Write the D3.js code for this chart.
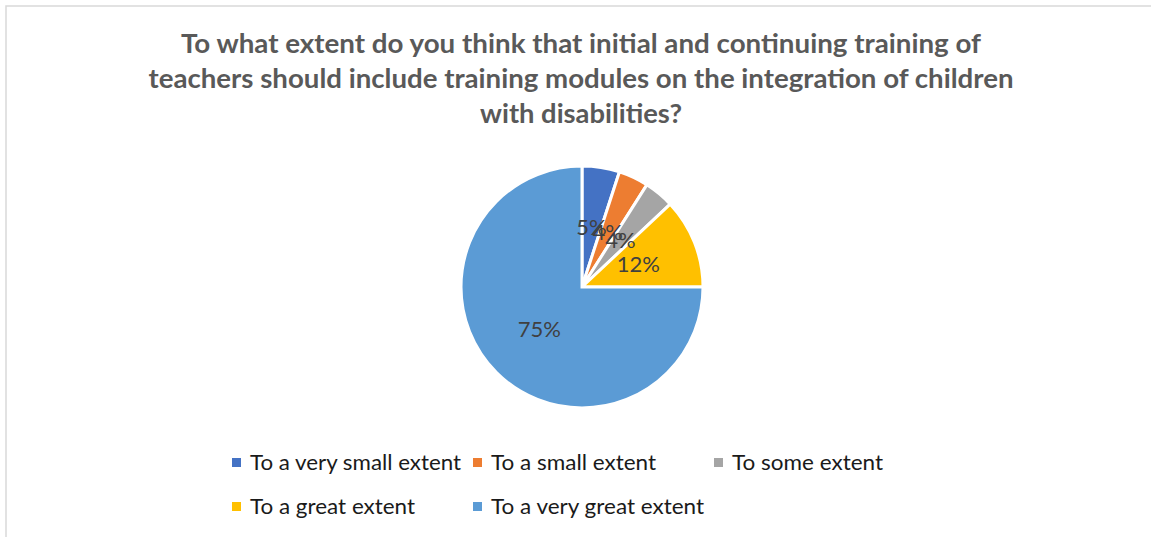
<!DOCTYPE html>
<html>
<head>
<meta charset="utf-8">
<script src="https://cdn.jsdelivr.net/npm/d3@7"></script>
<style>
  html, body { margin: 0; padding: 0; background: #fff; }
  svg { display: block; }
</style>
</head>
<body>
<svg id="chart" width="1151" height="537"></svg>
<script>
// Survey answers, in the order the slices run clockwise from 12 o'clock
const categories = [
  "To a very small extent",
  "To a small extent",
  "To some extent",
  "To a great extent",
  "To a very great extent"
];
const shares = [5, 4, 4, 12, 75];
const sliceColors = ["#4472C4", "#ED7D31", "#A5A5A5", "#FFC000", "#5B9BD5"];
const titleLines = [
  "To what extent do you think that initial and continuing training of",
  "teachers should include training modules on the integration of children",
  "with disabilities?"
];

const W = 1151, H = 537;
const svg = d3.select("#chart");
const FONT = "Lato, 'Liberation Sans', Arial, sans-serif";

// chart frame (only its top and left edges fall inside the view)
svg.append("rect")
  .attr("x", 6).attr("y", 6)
  .attr("width", W + 10).attr("height", H + 10)
  .attr("fill", "#fff")
  .attr("stroke", "#d9d9d9").attr("stroke-width", 1.5);

// fit a text element to a given rendered width
function fitWidth(sel, width) {
  sel.each(function () {
    const w = this.getComputedTextLength();
    if (Math.abs(w - width) > 1) {
      d3.select(this).attr("textLength", width).attr("lengthAdjust", "spacingAndGlyphs");
    }
  });
}

// title
const titleWidths = [800, 865, 202];
const titleG = svg.append("g");
titleLines.forEach((line, i) => {
  titleG.append("text")
    .attr("x", 581)
    .attr("y", 53 + i * 35)
    .attr("text-anchor", "middle")
    .attr("font-family", FONT)
    .attr("font-weight", "bold")
    .attr("font-size", 26)
    .attr("fill", "#595959")
    .text(line)
    .call(fitWidth, titleWidths[i]);
});

// pie
const cx = 582, cy = 287, R = 121;
const pie = d3.pie().sort(null).value(d => d).startAngle(0).endAngle(2 * Math.PI);
const arcs = pie(shares);
const arc = d3.arc().innerRadius(0).outerRadius(R);
const labelArc = d3.arc().innerRadius(R * 0.5).outerRadius(R * 0.5);

const pieG = svg.append("g").attr("transform", `translate(${cx},${cy})`);
pieG.selectAll("path.slice")
  .data(arcs)
  .join("path")
  .attr("class", "slice")
  .attr("d", arc)
  .attr("fill", (d, i) => sliceColors[i])
  .attr("stroke", "#fff")
  .attr("stroke-width", 3)
  .attr("stroke-linejoin", "miter");

pieG.selectAll("text.val")
  .data(arcs)
  .join("text")
  .attr("class", "val")
  .attr("transform", d => `translate(${labelArc.centroid(d)})`)
  .attr("text-anchor", "middle")
  .attr("dy", "0.35em")
  .attr("font-family", FONT)
  .attr("font-size", 22)
  .attr("fill", "#404040")
  .text(d => d.data + "%");

// legend: three columns, two rows
const legendWidths = [211, 165, 151, 165, 213];
const legend = svg.append("g");
const colX = d3.scalePoint().domain([0, 1, 2]).range([232, 714]);
const rowY = d3.scalePoint().domain([0, 1]).range([470, 514]);
categories.forEach((name, i) => {
  const col = i % 3, row = Math.floor(i / 3);
  const x = colX(col), y = rowY(row);
  legend.append("rect")
    .attr("x", x).attr("y", y - 12)
    .attr("width", 9).attr("height", 9)
    .attr("fill", sliceColors[i]);
  legend.append("text")
    .attr("x", x + 18).attr("y", y)
    .attr("font-family", FONT)
    .attr("font-size", 22)
    .attr("fill", "#1a1a1a")
    .text(name)
    .call(fitWidth, legendWidths[i]);
});
</script>
</body>
</html>
